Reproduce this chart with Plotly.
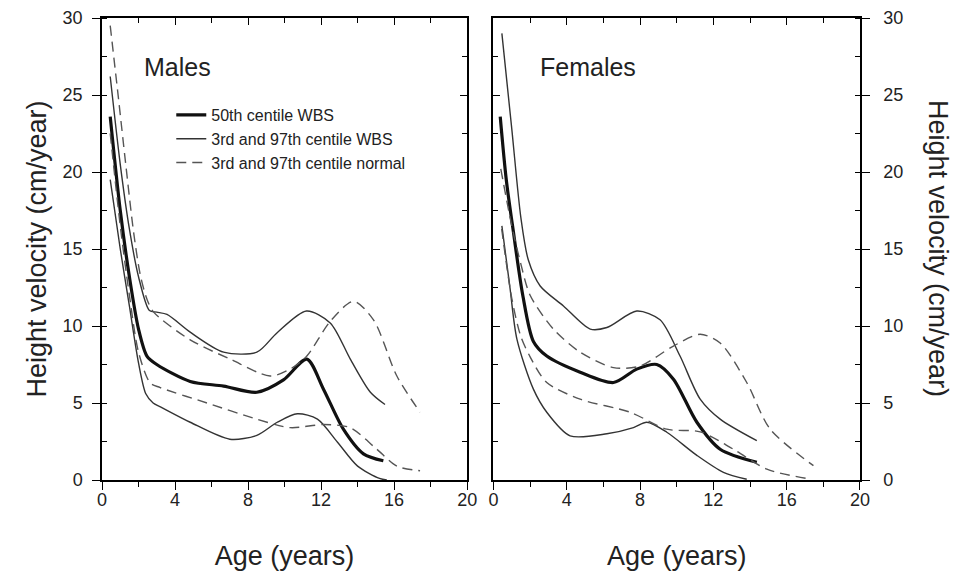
import plotly.graph_objects as go

# ---------------- DATA ----------------
# Males
m_p50_age = [0.45, 1.0, 1.5, 2.0, 2.46, 3.0, 4.83, 6.66, 8.48, 9.94, 11.22, 12.13, 13.22, 14.32, 15.41]
m_p50_val = [23.6, 17.5, 13.2, 9.8, 8.05, 7.5, 6.4, 6.1, 5.7, 6.5, 7.85, 5.9, 3.3, 1.7, 1.25]

m_p97_age = [0.45, 1.0, 1.5, 2.0, 2.6, 3.0, 3.56, 4.83, 6.66, 8.48, 9.58, 11.2, 12.5, 13.6, 14.7, 15.5]
m_p97_val = [26.2, 20.5, 16.3, 13.2, 11.0, 10.9, 10.75, 9.6, 8.3, 8.3, 9.55, 10.97, 10.2, 7.85, 5.7, 4.9]

m_p3_age = [0.45, 1.0, 1.5, 2.0, 2.4, 2.8, 3.2, 4.83, 7.0, 8.48, 9.6, 10.7, 11.8, 12.9, 14.0, 15.2, 15.6]
m_p3_val = [19.5, 15.0, 11.3, 7.6, 5.6, 5.0, 4.75, 3.75, 2.65, 2.9, 3.75, 4.3, 3.95, 2.45, 0.9, 0.1, 0.0]

m_n97_age = [0.45, 0.91, 1.3, 1.73, 2.1, 2.46, 2.83, 4.83, 7.02, 9.21, 10.3, 11.22, 12.5, 13.77, 14.87, 16.15, 17.42]
m_n97_val = [29.5, 24.7, 20.5, 16.1, 13.3, 11.75, 10.9, 9.1, 7.85, 6.75, 7.2, 8.05, 10.3, 11.6, 10.4, 6.75, 4.4]

m_n3_age = [0.45, 1.0, 1.5, 2.0, 2.64, 3.19, 5.75, 8.48, 10.3, 12.13, 13.59, 15.05, 16.15, 17.42]
m_n3_val = [22.5, 16.5, 12.0, 8.3, 6.3, 6.0, 5.0, 3.95, 3.4, 3.6, 3.4, 2.0, 0.9, 0.6]

# Females
f_p50_age = [0.37, 0.7, 1.09, 1.6, 2.18, 2.91, 4.73, 6.55, 7.82, 8.91, 9.82, 11.1, 12.37, 14.37]
f_p50_val = [23.6, 19.5, 16.1, 12.0, 9.0, 8.05, 7.0, 6.33, 7.2, 7.5, 6.55, 3.75, 2.0, 1.15]

f_p97_age = [0.46, 1.0, 1.5, 1.9, 2.55, 3.82, 5.28, 6.19, 7.82, 9.09, 10.18, 11.28, 12.37, 14.37]
f_p97_val = [29.0, 22.8, 17.0, 14.3, 12.6, 11.3, 9.8, 9.9, 10.97, 10.4, 8.05, 5.25, 3.95, 2.55]

f_p3_age = [0.46, 0.9, 1.28, 2.18, 2.91, 4.18, 6.19, 7.64, 8.37, 9.46, 11.1, 12.55, 13.82]
f_p3_val = [16.5, 12.5, 9.15, 5.9, 4.4, 2.87, 3.0, 3.4, 3.75, 3.1, 1.6, 0.5, 0.05]

f_n97_age = [0.4, 1.0, 1.5, 2.0, 3.27, 4.73, 6.55, 8.0, 9.82, 11.28, 12.37, 13.82, 15.1, 17.46]
f_n97_val = [20.2, 16.5, 14.0, 12.0, 9.8, 8.3, 7.3, 7.4, 8.7, 9.46, 8.9, 6.33, 3.3, 0.93]

f_n3_age = [0.45, 1.0, 1.5, 2.0, 2.91, 4.73, 7.46, 9.46, 11.28, 13.09, 14.92, 17.1]
f_n3_val = [16.3, 11.8, 9.3, 8.0, 6.33, 5.25, 4.4, 3.3, 3.13, 2.0, 0.7, 0.1]

legend_names = ["50th centile WBS", "3rd and 97th centile WBS", "3rd and 97th centile normal"]
panel_titles = ["Males", "Females"]
x_title = "Age (years)"
y_title = "Height velocity (cm/year)"

# ---------------- STYLES ----------------
FONT = "Liberation Sans, Arial, Helvetica, sans-serif"
thick = dict(color="#111111", width=3.2, shape="spline", smoothing=0.8)
thin = dict(color="#333333", width=1.4, shape="spline", smoothing=0.8)
dash = dict(color="#555555", width=1.4, dash="10px,6px", shape="spline", smoothing=0.8)

fig = go.Figure()

def add(x, y, line, xa, ya, name=None, show=False):
    fig.add_trace(go.Scatter(x=x, y=y, mode="lines", line=line, xaxis=xa, yaxis=ya,
                             name=name, showlegend=show, hoverinfo="skip"))

# Males (legend entries)
add(m_p50_age, m_p50_val, thick, "x", "y", legend_names[0], True)
add(m_p97_age, m_p97_val, thin, "x", "y", legend_names[1], True)
add(m_n97_age, m_n97_val, dash, "x", "y", legend_names[2], True)
add(m_p3_age, m_p3_val, thin, "x", "y")
add(m_n3_age, m_n3_val, dash, "x", "y")
# Females
add(f_p50_age, f_p50_val, thick, "x2", "y2")
add(f_p97_age, f_p97_val, thin, "x2", "y2")
add(f_p3_age, f_p3_val, thin, "x2", "y2")
add(f_n97_age, f_n97_val, dash, "x2", "y2")
add(f_n3_age, f_n3_val, dash, "x2", "y2")
# invisible traces so the mirror (frame) axes are drawn
for xa, ya in [("x3", "y3"), ("x4", "y4")]:
    fig.add_trace(go.Scatter(x=[None], y=[None], mode="lines", xaxis=xa, yaxis=ya,
                             showlegend=False, hoverinfo="skip"))

L, R, T, B = 101.7, 94, 18, 100
W, H = 954, 580
pw = W - L - R
ph = H - T - B
d1 = [0, (467 - L) / pw]
d2 = [(493.3 - L) / pw, 1]

axline = dict(showline=True, linecolor="black", linewidth=1.5, showgrid=False, zeroline=False,
              tickcolor="black", tickwidth=1.3)

def xbase(domain, anchor):
    return dict(domain=domain, anchor=anchor, range=[0, 20], tickmode="linear", tick0=0, dtick=4,
                ticks="outside", ticklen=8, ticklabelstandoff=-5,
                minor=dict(dtick=2, ticks="outside", ticklen=5, tickcolor="black", tickwidth=1.2, showgrid=False),
                tickfont=dict(size=18, family=FONT, color="#222"),
                title=dict(text=x_title, font=dict(size=27, family=FONT, color="#222"), standoff=37),
                automargin=False, **axline)

def xtop(over, anchor):
    return dict(overlaying=over, anchor=anchor, side="top", range=[0, 20], tickmode="linear", tick0=0,
                dtick=4, ticks="inside", ticklen=7, showticklabels=False,
                minor=dict(dtick=2, ticks="inside", ticklen=5, tickcolor="black", tickwidth=1.2, showgrid=False),
                **axline)

def ymain(anchor, side, standoff):
    return dict(anchor=anchor, side=side, domain=[0, 1], range=[0, 30], tickmode="linear", tick0=0, dtick=5,
                ticks="outside", ticklen=8, ticklabelstandoff=standoff,
                minor=dict(dtick=2.5, ticks="inside", ticklen=5, tickcolor="black", tickwidth=1.2, showgrid=False),
                tickfont=dict(size=18, family=FONT, color="#222"),
                automargin=False, **axline)

def yframe(over, anchor, side):
    return dict(overlaying=over, anchor=anchor, side=side, range=[0, 30], tickmode="linear", tick0=0, dtick=5,
                ticks="inside", ticklen=7, showticklabels=False,
                minor=dict(dtick=2.5, ticks="inside", ticklen=5, tickcolor="black", tickwidth=1.2, showgrid=False),
                **axline)

y1 = ymain("x", "left", 6)
y1["title"] = dict(text=y_title, font=dict(size=27, family=FONT, color="#222"), standoff=8)
y2 = ymain("x2", "right", 10)

fig.update_layout(
    width=W, height=H,
    margin=dict(l=L, r=R, t=T, b=B),
    paper_bgcolor="white", plot_bgcolor="white",
    font=dict(family=FONT, color="#222"),
    xaxis=xbase(d1, "y"),
    xaxis2=xbase(d2, "y2"),
    xaxis3=xtop("x", "y"),
    xaxis4=xtop("x2", "y2"),
    yaxis=y1,
    yaxis2=y2,
    yaxis3=yframe("y", "x", "right"),
    yaxis4=yframe("y2", "x2", "left"),
    legend=dict(x=(171 - L) / pw, y=1 - (98 - T) / ph, xanchor="left", yanchor="top",
                bgcolor="rgba(0,0,0,0)", borderwidth=0, tracegroupgap=0,
                font=dict(size=16, family=FONT, color="#222")),
    showlegend=True,
    annotations=[
        dict(text=panel_titles[0], xref="x domain", yref="y domain", x=(141.7 - L) / (467 - L),
             y=1 - (67 - T) / ph, xanchor="left", yanchor="middle", showarrow=False,
             font=dict(size=25, family=FONT, color="#222")),
        dict(text=panel_titles[1], xref="x2 domain", yref="y2 domain", x=(538.3 - 493.3) / (860 - 493.3),
             y=1 - (67 - T) / ph, xanchor="left", yanchor="middle", showarrow=False,
             font=dict(size=25, family=FONT, color="#222")),
        dict(text=y_title, xref="paper", yref="paper", x=(938 - L) / pw, y=0.5, textangle=90,
             xanchor="center", yanchor="middle", showarrow=False,
             font=dict(size=27, family=FONT, color="#222")),
    ],
)

fig.write_html("out.html", config={"displayModeBar": False},
               post_script="document.body.style.margin='0px';")
